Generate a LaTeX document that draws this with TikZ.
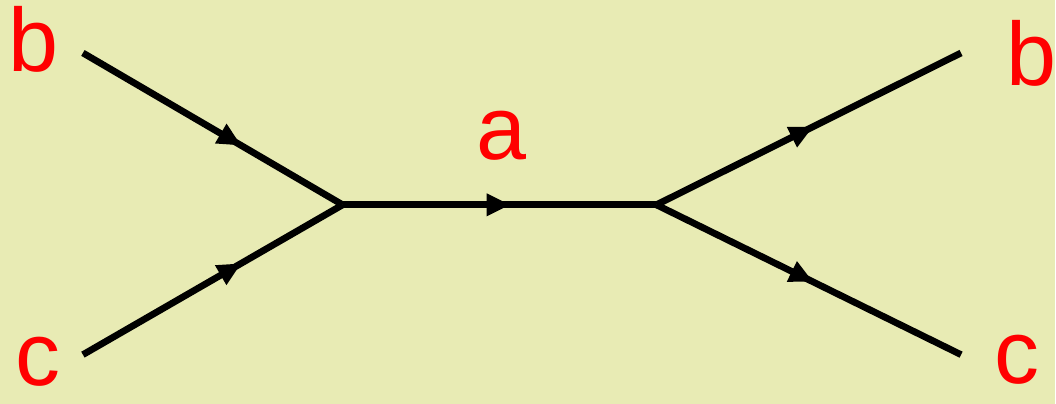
\documentclass[tikz,border=0pt]{standalone}
\usepackage{fontspec}
\setmainfont{Liberation Sans}
\usetikzlibrary{arrows.meta,decorations.markings}
\definecolor{paper}{RGB}{232,235,180}

\begin{document}
\begin{tikzpicture}[x=0.025cm, y=-0.025cm,
  line/.style={line width=4.8pt, postaction={decorate},
    decoration={markings, mark=at position #1 with {\arrow{Triangle[length=17pt,width=15pt]}}}},
  lbl/.style={text=red, font=\fontsize{64}{70}\selectfont, anchor=base, inner sep=0pt}]
\fill[paper] (0,0) rectangle (1056,404);

\coordinate (bin) at (83,53);
\coordinate (cin) at (83,355);
\coordinate (vl) at (343,205);
\coordinate (vr) at (657,205);
\coordinate (bout) at (962,53);
\coordinate (cout) at (962,355);

\node[lbl] (b1) at (34,72) {b};
\node[lbl] (c1) at (38,386) {c};
\node[lbl] (a) at (502,160) {a};
\node[lbl] (b2) at (1032,86) {b};
\node[lbl] (c2) at (1018,384) {c};

\draw[line=0.61] (bin) -- (vl);
\draw[line=0.61] (cin) -- (vl);
\draw[line=0.535] (vl) -- (vr);
\draw[line=0.515] (vr) -- (bout);
\draw[line=0.515] (vr) -- (cout);

\end{tikzpicture}
\end{document}
